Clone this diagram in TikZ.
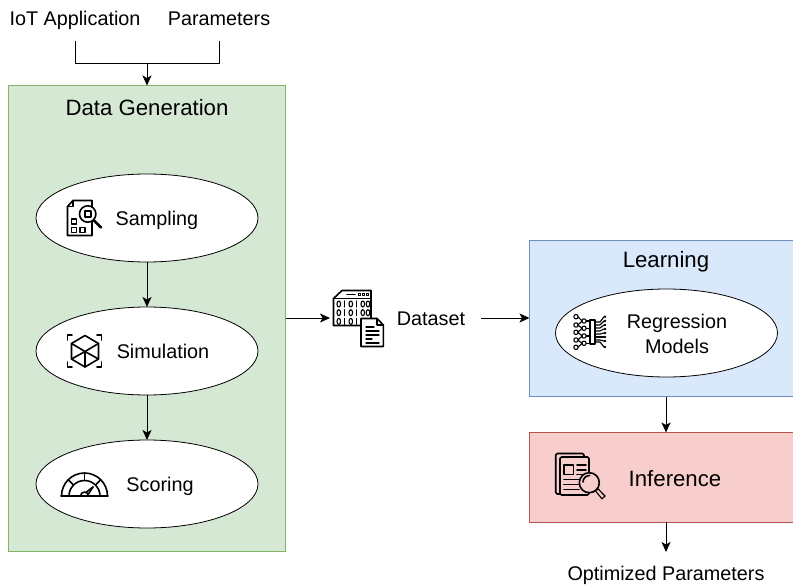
\documentclass[tikz,border=0pt]{standalone}
\usepackage{fontspec}
\setmainfont{Liberation Sans}
\usetikzlibrary{arrows.meta,shapes.geometric}
\definecolor{gfill}{HTML}{D5E8D4}\definecolor{gline}{HTML}{82B366}
\definecolor{bfill}{HTML}{DAE8FC}\definecolor{bline}{HTML}{6C8EBF}
\definecolor{rfill}{HTML}{F8CECC}\definecolor{rline}{HTML}{B85450}
\tikzset{
 x=1pt,y=-1pt,
 panel/.style={draw,line width=0.7pt,anchor=north west,inner sep=0pt,outer sep=0pt},
 oval/.style={ellipse,draw=black,fill=white,line width=0.8pt,minimum width=222pt,minimum height=88pt,inner sep=0pt,outer sep=0pt},
 lbl/.style={inner sep=0pt,anchor=base,font=\fontsize{19.8}{24}\selectfont},
 big/.style={inner sep=0pt,anchor=base,font=\fontsize{22.2}{26}\selectfont},
 flow/.style={draw=black,line width=0.9pt,-{Stealth[length=10pt,width=9pt,inset=2.5pt]}},
 plain/.style={draw=black,line width=0.8pt},
 ico/.style={draw=black,line width=1.6pt,line join=round,line cap=round},
 icothin/.style={draw=black,line width=1.1pt,line join=round,line cap=round}
}
\begin{document}
\begin{tikzpicture}
\useasboundingbox (0,0) rectangle (793,586);
\fill[white] (0,0) rectangle (793,586);
% panels
\node[panel,fill=gfill,draw=gline,minimum width=277pt,minimum height=466pt] (gen) at (8.5,85.5) {};
\node[panel,fill=bfill,draw=bline,minimum width=266pt,minimum height=156pt] (learn) at (529.5,240.5) {};
\node[panel,fill=rfill,draw=rline,minimum width=266pt,minimum height=89.5pt] (inf) at (529.5,432.5) {};
% ellipses
\node[oval] (samp) at (147,218) {};
\node[oval] (sim) at (147,351) {};
\node[oval] (score) at (147,484) {};
\node[oval] (reg) at (666.5,333) {};
% text
\node[lbl] (iot) at (75,25.5) {IoT Application};
\node[lbl] (par) at (219,25.5) {Parameters};
\node[big] (gent) at (147,116) {Data Generation};
\node[lbl] (sampt) at (157,225) {Sampling};
\node[lbl] (simt) at (163,358) {Simulation};
\node[lbl] (scoret) at (160,491) {Scoring};
\node[lbl] (dset) at (431,325) {Dataset};
\node[big] (learnt) at (666,267.5) {Learning};
\node[lbl] (regta) at (677,328) {Regression};
\node[lbl] (regtb) at (677,353) {Models};
\node[big] (inft) at (675,486) {Inference};
\node[lbl] (opt) at (666,580) {Optimized Parameters};
% connectors
\coordinate (iotb) at (75,41);\coordinate (parb) at (219,41);
\coordinate (iotc) at (75,63);\coordinate (parc) at (219,63);
\coordinate (mid) at (147,63);
\coordinate (gentop) at (147,85.5);
\draw[plain] (iotb) -- (iotc) -- (parc) -- (parb);
\draw[flow] (mid) -- (gentop);
\draw[flow] (samp.south) -- (sim.north);
\draw[flow] (sim.south) -- (score.north);
\coordinate (gr) at (285.5,318);\coordinate (dsl) at (330,318);
\draw[flow] (gr) -- (dsl);
\coordinate (dsr) at (481,318);\coordinate (ll) at (529.5,318);
\draw[flow] (dsr) -- (ll);
\coordinate (lb) at (666,396.5);\coordinate (it) at (666,432.5);
\draw[flow] (lb) -- (it);
\coordinate (ib) at (666,522);\coordinate (ob) at (666,552);
\draw[flow] (ib) -- (ob);
% sampling icon
\draw[ico] (73,200.5) -- (92,200.5) -- (92,235.5) -- (67.5,235.5) -- (67.5,206.5) -- cycle;
\draw[ico] (67.5,206.5) -- (73,206.5) -- (73,200.5);
\draw[ico,fill=white] (87.7,214) circle (8.2);
\draw[ico] (84.7,211) rectangle (90.7,217);
\draw[ico,line width=2.8pt] (94,220.5) -- (101,227.5);
\foreach \p in {(71.5,219),(71.5,227.5),(80,227.5)}{\draw[ico] \p rectangle ++(5,5);}
% simulation icon
\draw[ico] (85,335.5) -- (98.5,343.5) -- (98.5,359) -- (85,367) -- (71.5,359) -- (71.5,343.5) -- cycle;
\draw[ico] (71.5,343.5) -- (85,351.5) -- (98.5,343.5);
\draw[ico] (85,351.5) -- (85,367);
\draw[ico] (71.5,359) -- (85,351.5) -- (98.5,359);
\draw[ico] (67.5,340) -- (67.5,335) -- (72,335);
\draw[ico] (97,335) -- (101.5,335) -- (101.5,340);
\draw[ico] (67.5,362) -- (67.5,367) -- (72,367);
\draw[ico] (97,367) -- (101.5,367) -- (101.5,362);
% scoring icon
\draw[ico] (61,496) -- (108,496);
\draw[ico] (61.5,496) arc[start angle=180,end angle=360,radius=23];
\draw[ico] (69,496) arc[start angle=180,end angle=360,radius=15.5];
\draw[ico] (84.5,473) -- (84.5,480.5);
\draw[ico] (68.2,479.7) -- (73.5,485);
\draw[ico] (100.8,479.7) -- (95.5,485);
\draw[ico] (80.5,496) arc[start angle=180,end angle=360,radius=4];
\draw[ico] (86.5,492) -- (93,487);
\draw[ico] (88.5,494) -- (93,487);
% dataset icon
\draw[ico] (342,290.5) -- (371,290.5) -- (371,325.5) -- (333.5,325.5) -- (333.5,298.5) -- cycle;
\draw[ico] (333.5,298.5) -- (371,298.5);
\draw[ico] (347,294.5) -- (355,294.5);
\foreach \x in {358.5,362.5,366.5}{\draw[icothin] (\x,293.4) rectangle ++(2.2,2.2);}
\foreach \y in {304,312.7,321.4}{
 \foreach \x in {338.8,350.8,362.8,368}{\draw[icothin] (\x,\y) ellipse (1.8 and 3);}
 \foreach \x in {344.8,356.8}{\draw[icothin] (\x,\y-3) -- (\x,\y+3);}
}
\draw[ico,fill=white] (361,318.5) -- (377,318.5) -- (383.3,325) -- (383.3,346.5) -- (361,346.5) -- cycle;
\draw[ico] (377,318.5) -- (377,325) -- (383.3,325);
\foreach \y/\a/\b in {327/366/374,331/366/379,335/366/379,339/366/372,343/366/379}{\draw[icothin] (\a,\y) -- (\b,\y);}
% regression icon
\foreach \y in {316.7,325,332.3,340,347.3}{\draw[icothin] (576,\y) circle (2.2);}
\foreach \y in {321,328.3,336,343.3}{\draw[icothin] (584,\y) circle (2.2);}
\foreach \a/\b in {316.7/321,325/321,325/328.3,332.3/328.3,332.3/336,340/336,340/343.3,347.3/343.3}{\draw[icothin] (577.8,\a) -- (582.2,\b);}
\foreach \y in {321,328.3,336,343.3}{\draw[icothin] (586.2,\y) -- (590,\y);}
\draw[icothin] (590,320) rectangle (595,344);
\foreach \a/\b in {316.7/322,321/325,325/328,329/331,333/334,337/337,341/340,347/342}{\draw[icothin] (595,\b) -- (600,\b) -- (604,\a); \fill (605,\a) circle (1.3);}
% inference icon
\draw[ico,rounded corners=1.5pt] (560,494) -- (555.7,494) -- (555.7,453.5) -- (584,453.5) -- (584,457);
\draw[ico,rounded corners=1.5pt,fill=rfill] (560,457) rectangle (589,495);
\draw[ico] (564,465) rectangle (573.5,474.5);
\foreach \y/\a/\b in {465/577/586,470/577/586,474.5/577/586,479.5/564/581,484.5/564/579,489.5/564/579}{\draw[ico] (\a,\y) -- (\b,\y);}
\draw[ico,fill=rfill] (589.3,482.7) circle (10);
\draw[ico] (583,482) arc[start angle=180,end angle=270,radius=6.5];
\draw[ico,line width=1.2pt,fill=rfill] (595.5,491) -- (598,488.8) -- (605,496) -- (602,498.8) -- cycle;
\end{tikzpicture}
\end{document}
